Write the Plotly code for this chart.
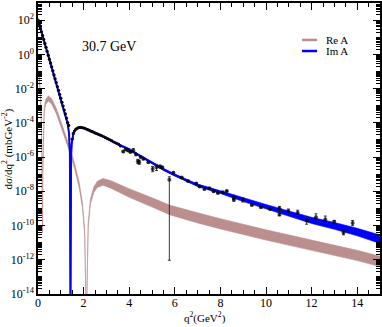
import numpy as np
import plotly.graph_objects as go

# Im A band: log10(dsigma/dq^2) centre and half-width (decades)
im_q2 = [0.0, 0.5, 1.0, 1.2, 1.3, 1.36, 1.40, 1.425, 1.435, 1.45, 1.48, 1.52, 1.56, 1.62, 1.7,
         1.84, 2.0, 2.25, 2.5, 2.75, 3.0, 3.5, 4.0, 4.5, 5.0, 5.5, 6.0, 6.5, 7.0, 7.5,
         8.0, 9.0, 10.0, 11.0, 12.0, 13.0, 14.0, 15.0]
im_log = [2.03, -0.28, -2.58, -3.5, -4.05, -4.6, -5.8, -16.0, -7.5, -6.0, -5.2, -4.8, -4.58, -4.42, -4.32,
          -4.27, -4.3, -4.42, -4.57, -4.72, -4.9, -5.25, -5.55, -5.95, -6.35, -6.72, -7.05, -7.35, -7.65, -7.85,
          -8.05, -8.5, -8.9, -9.3, -9.7, -10.02, -10.38, -10.8]
im_hw = [0.04, 0.04, 0.04, 0.04, 0.04, 0.04, 0.04, 0.0, 0.04, 0.04, 0.04, 0.04, 0.04, 0.04, 0.04,
         0.04, 0.04, 0.04, 0.04, 0.04, 0.04, 0.04, 0.05, 0.05, 0.05, 0.06, 0.06, 0.07, 0.07, 0.08,
         0.08, 0.1, 0.13, 0.15, 0.18, 0.2, 0.22, 0.25]

# Re A band
re_q2 = [0.02, 0.1, 0.16, 0.19, 0.2, 0.21, 0.23, 0.27, 0.33, 0.45, 0.6, 0.8, 1.0, 1.2, 1.4,
         1.6, 1.8, 1.95, 2.05, 2.12, 2.2, 2.3, 2.45, 2.6, 2.85, 3.2, 4.0, 5.0, 5.8, 7.0,
         8.0, 10.0, 12.0, 14.0, 15.0]
re_log = [-0.9, -2.2, -4.5, -7.0, -10.4, -7.0, -4.5, -3.3, -2.8, -2.57, -2.75, -3.3, -4.05, -4.8, -5.6,
          -6.5, -7.6, -8.8, -10.5, -16.0, -10.0, -8.6, -7.9, -7.6, -7.45, -7.6, -8.1, -8.65, -9.1, -9.55,
          -9.9, -10.55, -11.15, -11.75, -12.1]
re_hw = [0.08, 0.08, 0.08, 0.08, 0.0, 0.08, 0.1, 0.12, 0.14, 0.15, 0.15, 0.15, 0.15, 0.15, 0.15,
         0.15, 0.15, 0.15, 0.12, 0.0, 0.12, 0.14, 0.16, 0.18, 0.2, 0.22, 0.25, 0.27, 0.28, 0.3,
         0.3, 0.3, 0.3, 0.3, 0.3]

# measured points, forward peak
fw_q2 = [0.0, 0.05, 0.1, 0.15, 0.2, 0.25, 0.3, 0.35, 0.4, 0.45, 0.5, 0.55, 0.6, 0.65,
         0.7, 0.75, 0.8, 0.85, 0.9, 0.95, 1.0, 1.05, 1.1, 1.15, 1.2, 1.25, 1.3, 1.35]
fw_log = [2.0, 1.78, 1.55, 1.32, 1.1, 0.87, 0.64, 0.41, 0.18, -0.05, -0.28, -0.5, -0.73, -0.96,
          -1.2, -1.43, -1.65, -1.88, -2.1, -2.33, -2.56, -2.8, -3.02, -3.25, -3.48, -3.72, -3.98, -4.15]

# measured points beyond the dip
dat_q2 = [1.5, 1.55, 1.6, 1.66, 1.72, 1.78, 1.85, 1.92, 1.99, 2.06, 2.14, 2.22, 2.3, 2.38, 2.46,
          2.54, 2.62, 2.7, 2.78, 2.87, 2.96, 3.05, 3.14, 3.23, 3.33, 3.43, 3.53, 3.62,
          3.74, 3.85, 3.95, 4.05, 4.18, 4.3, 4.38, 4.44, 4.5, 4.62, 4.84, 5.03, 5.2, 5.35, 5.45,
          5.76, 5.94, 6.3, 6.58, 6.94, 7.09, 7.3, 7.52, 7.7, 7.89, 8.1, 8.28, 8.59, 8.59,
          8.98, 9.38, 9.78, 10.18, 10.59, 10.59, 10.98, 11.39, 11.78, 12.19, 12.6, 12.99, 13.4, 13.8]
dat_log = [-4.95, -4.62, -4.48, -4.38, -4.32, -4.28, -4.26, -4.28, -4.3, -4.33, -4.38, -4.43, -4.48, -4.52, -4.57,
           -4.62, -4.66, -4.7, -4.74, -4.8, -4.86, -4.92, -4.98, -5.04, -5.12, -5.18, -5.24, -5.36,
           -5.68, -5.55, -5.62, -5.7, -5.62, -5.85, -6.25, -6.3, -6.0, -6.1, -6.3, -6.7, -6.6, -6.55, -6.6,
           -7.33, -6.92, -7.2, -7.4, -7.55, -7.72, -7.87, -7.82, -8.0, -8.1, -8.05, -7.98, -8.35, -8.5,
           -8.5, -8.8, -8.93, -9.04, -9.0, -9.35, -9.15, -9.25, -9.7, -9.52, -9.65, -9.78, -10.42, -9.85]
dat_up = [0.05] * 28 + [0.1, 0.1, 0.1, 0.1, 0.3, 0.1, 0.3, 0.3, 0.1, 0.15, 0.1, 0.4, 0.5, 0.2, 0.1,
                        0.5, 0.1, 0.1, 0.1, 0.1, 0.1, 0.1, 0.1, 0.1, 0.1, 0.1, 0.1, 0.3, 0.2,
                        0.3, 0.1, 0.1, 0.1, 0.3, 0.2, 0.3, 0.4, 0.6, 0.6, 0.6, 0.2, 0.3, 0.4]
dat_dn = [0.05] * 28 + [0.1, 0.1, 0.1, 0.1, 0.25, 0.1, 0.25, 0.25, 0.1, 0.13, 0.1, 0.3, 0.35, 0.17, 0.1,
                        0.99998, 0.1, 0.1, 0.1, 0.1, 0.1, 0.1, 0.1, 0.1, 0.1, 0.1, 0.1, 0.25, 0.17,
                        0.25, 0.1, 0.1, 0.1, 0.25, 0.17, 0.25, 0.3, 0.4, 0.4, 0.4, 0.17, 0.25, 0.3]

BLUE = "#0000ff"
PINK = "#bc8f8f"
SERIF = "Liberation Serif, Times New Roman, serif"


def band(x, c, hw, color, name):
    c = np.array(c)
    hw = np.array(hw)
    lo = 10 ** (c - hw)
    hi = 10 ** (c + hw)
    return [
        go.Scatter(x=x, y=lo, mode="lines", line=dict(color=color, width=0.6),
                   showlegend=False, hoverinfo="skip"),
        go.Scatter(x=x, y=hi, mode="lines", line=dict(color=color, width=0.6),
                   fill="tonexty", fillcolor=color, name=name, showlegend=False),
    ]


fig = go.Figure()
for tr in band(re_q2, re_log, re_hw, PINK, "Re A"):
    fig.add_trace(tr)
for tr in band(im_q2, im_log, im_hw, BLUE, "Im A"):
    fig.add_trace(tr)
fig.add_trace(go.Scatter(x=im_q2, y=10 ** np.array(im_log), mode="lines",
                         line=dict(color=BLUE, width=2), showlegend=False))

fig.add_trace(go.Scatter(
    x=fw_q2, y=10 ** np.array(fw_log), mode="markers",
    marker=dict(color="black", size=3.2, line=dict(width=0)), showlegend=False))

dy = 10 ** np.array(dat_log)
fig.add_trace(go.Scatter(
    x=dat_q2, y=dy, mode="markers",
    marker=dict(color="black", size=[3.2] * 28 + [4] * (len(dat_q2) - 28), line=dict(width=0)),
    error_y=dict(type="data", symmetric=False, array=dy * np.array(dat_up),
                 arrayminus=dy * np.array(dat_dn), color="#222222", thickness=0.9, width=1.5),
    showlegend=False))

# legend drawn by hand, short line samples as in the original
for i, (lab, col) in enumerate([("Re A", PINK), ("Im A", BLUE)]):
    yp = 0.873 - i * 0.038
    fig.add_shape(type="line", xref="paper", yref="paper", x0=0.772, x1=0.816,
                  y0=yp, y1=yp, line=dict(color=col, width=2.5))
    fig.add_annotation(xref="paper", yref="paper", x=0.835, y=yp, text=lab,
                       showarrow=False, xanchor="left", yanchor="middle",
                       font=dict(family=SERIF, size=11, color="black"))

fig.add_annotation(xref="paper", yref="paper", x=0.122, y=0.85, text="30.7 GeV",
                   showarrow=False, xanchor="left", yanchor="middle",
                   font=dict(family=SERIF, size=14, color="black"))

# axis titles
fig.add_annotation(xref="paper", yref="paper", x=0.488, y=-0.082, text="q<sup>2</sup>(GeV<sup>2</sup>)",
                   showarrow=False, xanchor="center", yanchor="middle",
                   font=dict(family=SERIF, size=11, color="black"))
fig.add_annotation(xref="paper", yref="paper", x=-0.088, y=0.5,
                   text="d\u03c3/dq<sup>2</sup> (mbGeV<sup>-2</sup>)", textangle=-90,
                   showarrow=False, xanchor="center", yanchor="middle",
                   font=dict(family=SERIF, size=11, color="black"))

ymajor = [10.0 ** k for k in range(-14, 3, 2)]
ytext = ["10<sup>%d</sup>" % k for k in range(-14, 3, 2)]
yminor = [m * 10.0 ** k for k in range(-14, 3) for m in range(2, 10)] + \
         [10.0 ** k for k in range(-13, 3, 2)]

fig.update_layout(
    width=382, height=327,
    margin=dict(l=38, r=2, t=3, b=33),
    paper_bgcolor="white", plot_bgcolor="white",
    font=dict(family=SERIF, size=12, color="black"),
    xaxis=dict(range=[0, 15], tickvals=list(range(0, 15, 2)), ticks="inside", ticklen=7,
               tickcolor="black", tickfont=dict(family=SERIF, size=12, color="black"),
               ticklabelstandoff=-3,
               showline=True, linecolor="black", linewidth=1.5, mirror="allticks",
               showgrid=False, zeroline=False, automargin=False,
               minor=dict(dtick=0.5, ticks="inside", ticklen=4, tickcolor="black")),
    yaxis=dict(type="log", range=[-14, 3], tickvals=ymajor, ticktext=ytext,
               ticks="inside", ticklen=7, tickcolor="black",
               tickfont=dict(family=SERIF, size=12, color="black"), ticklabelstandoff=0,
               showline=True, linecolor="black", linewidth=1.5, mirror="allticks",
               showgrid=False, zeroline=False, automargin=False,
               minor=dict(tickvals=yminor, ticks="inside", ticklen=4, tickcolor="black")),
)

fig.write_html("out.html", config={"displayModeBar": False},
               post_script="document.body.style.margin='0';")
